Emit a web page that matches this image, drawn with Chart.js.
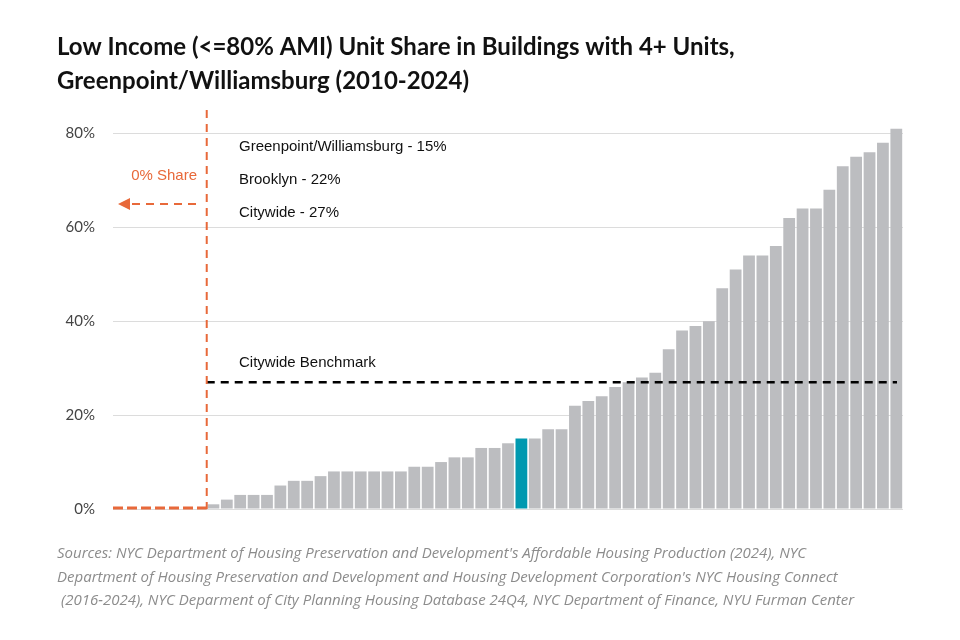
<!DOCTYPE html>
<html><head><meta charset="utf-8">
<script src="https://cdn.jsdelivr.net/npm/chart.js@4"></script>
<style>body{margin:0;background:#fff}#wrap{width:960px;height:640px}</style>
</head><body><div id="wrap"><canvas id="c"></canvas></div>
<script>
// 59 community districts, sorted by share; 7 with 0%
const zeroCount = 7;
const shares = [1,2,3,3,3,5,6,6,7,8,8,8,8,8,8,9,9,10,11,11,13,13,14,15,
  15,17,17,22,23,24,26,27,28,29,34,38,39,40,47,51,54,54,56,62,64,64,68,73,75,76,78,81];
const highlightIndex = zeroCount + 23;
const benchmark = 27;
const legendLines = ['Greenpoint/Williamsburg - 15%', 'Brooklyn - 22%', 'Citywide - 27%'];
const titleLines = ['Low Income (<=80% AMI) Unit Share in Buildings with 4+ Units,', 'Greenpoint/Williamsburg (2010-2024)'];
const sourceLines = [
  "Sources: NYC Department of Housing Preservation and Development's Affordable Housing Production (2024), NYC",
  "Department of Housing Preservation and Development and Housing Development Corporation's NYC Housing Connect",
  " (2016-2024), NYC Deparment of City Planning Housing Database 24Q4, NYC Department of Finance, NYU Furman Center"
];

const values = Array(zeroCount).fill(0).concat(shares);
const labels = values.map((v, i) => 'CD' + (i + 1));
const colors = values.map((v, i) => i === highlightIndex ? '#0099b0' : '#bcbdc0');
const ORANGE = '#e8693a';

const extras = {
  id: 'extras',
  afterDatasetsDraw(chart) {
    const c = chart.ctx, x = chart.scales.x, y = chart.scales.y;
    const y0 = y.getPixelForValue(0);
    const split = (x.getPixelForValue(zeroCount - 1) + x.getPixelForValue(zeroCount)) / 2;
    c.save();
    // benchmark
    c.strokeStyle = '#000'; c.lineWidth = 2.5; c.setLineDash([8, 6]);
    const yb = y.getPixelForValue(benchmark);
    c.beginPath(); c.moveTo(split, yb); c.lineTo(chart.chartArea.right - 6, yb); c.stroke();
    // orange zero markers
    c.strokeStyle = ORANGE; c.lineWidth = 2;
    c.setLineDash([8, 6]);
    c.beginPath(); c.moveTo(split, 110); c.lineTo(split, y0); c.stroke();
    c.lineWidth = 3; c.setLineDash([10, 4]);
    c.beginPath(); c.moveTo(chart.chartArea.left, y0 - 1); c.lineTo(split, y0 - 1); c.stroke();
    c.lineWidth = 2; c.setLineDash([8, 6]);
    c.beginPath(); c.moveTo(196, 204); c.lineTo(128, 204); c.stroke();
    c.setLineDash([]); c.fillStyle = ORANGE;
    c.beginPath(); c.moveTo(118, 204); c.lineTo(130, 198); c.lineTo(130, 210); c.closePath(); c.fill();
    c.font = '15px "Liberation Sans", Arial'; c.textAlign = 'right'; c.textBaseline = 'middle';
    c.fillText('0% Share', 197, 176);
    c.fillStyle = '#111'; c.textAlign = 'left';
    legendLines.forEach((t, i) => c.fillText(t, 239, 147 + i * 33));
    c.fillText('Citywide Benchmark', 239, 363);
    // title
    c.font = 'bold 24px Lato'; c.textBaseline = 'alphabetic';
    titleLines.forEach((t, i) => c.fillText(t, 57, 55 + i * 34));
    c.font = 'italic 15px "Open Sans"'; c.fillStyle = '#8c8c8c';
    sourceLines.forEach((t, i) => c.fillText(t, 57, 558 + i * 23.5));
    c.restore();
  }
};

new Chart(document.getElementById('c'), {
  type: 'bar',
  data: { labels, datasets: [{ data: values, backgroundColor: colors, categoryPercentage: 1, barPercentage: 0.88 }] },
  options: {
    responsive: true, maintainAspectRatio: false, animation: false,
    layout: { padding: { top: 124, bottom: 131, right: 57, left: 0 } },
    plugins: { legend: { display: false }, tooltip: { enabled: false } },
    scales: {
      x: { display: false, grid: { display: false } },
      y: {
        min: 0, max: 82,
        afterFit(s) { s.width = 113; },
        afterBuildTicks(s) { s.ticks = [0, 20, 40, 60, 80].map(v => ({ value: v })); },
        border: { display: false },
        grid: { color: '#dcdcdc', drawTicks: false },
        ticks: { padding: 18, color: '#444', font: { family: 'Lato', size: 15 }, callback: v => v + '%' }
      }
    }
  },
  plugins: [extras]
});
</script></body></html>
